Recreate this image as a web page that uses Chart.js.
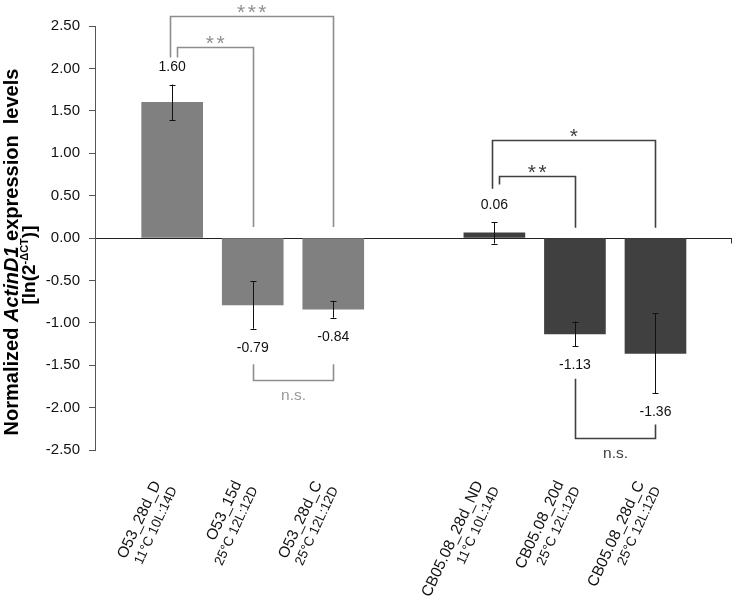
<!DOCTYPE html>
<html><head><meta charset="utf-8">
<script src="https://cdn.jsdelivr.net/npm/chart.js@4"></script>
<style>html,body{margin:0;padding:0;background:#fff;}</style>
</head><body>
<canvas id="c" width="734" height="601"></canvas>
<script>
// ---- data ----
const o53Labels = ['O53_28d_D', 'O53_15d', 'O53_28d_C'];
const o53Conditions = ['11°C 10L:14D', '25°C 12L:12D', '25°C 12L:12D'];
const o53Values = [1.60, -0.79, -0.84];
const o53Errors = [0.21, 0.28, 0.10];

const cbLabels = ['CB05.08_28d_ND', 'CB05.08_20d', 'CB05.08_28d_C'];
const cbConditions = ['11°C 10L:14D', '25°C 12L:12D', '25°C 12L:12D'];
const cbValues = [0.06, -1.13, -1.36];
const cbErrors = [0.125, 0.145, 0.47];

const yTickValues = [2.5, 2.0, 1.5, 1.0, 0.5, 0.0, -0.5, -1.0, -1.5, -2.0, -2.5];

// full category list (blank slot separates the two strains)
const categories = [...o53Labels, '', ...cbLabels];
const conditions = [...o53Conditions, '', ...cbConditions];

// significance comparisons (values in y data units)
const brackets = [
  { from: 0, to: 2, level: 2.62, fromEnd: 2.13, toEnd: 0.13, text: '***', group: 0 },
  { from: 0, to: 1, level: 2.25, fromEnd: 2.13, toEnd: 0.13, text: '**', group: 0 },
  { from: 1, to: 2, level: -1.68, fromEnd: -1.49, toEnd: -1.49, text: 'n.s.', group: 0 },
  { from: 4, to: 6, level: 1.16, fromEnd: 0.58, toEnd: 0.12, text: '*', group: 1 },
  { from: 4, to: 5, level: 0.73, fromEnd: 0.63, toEnd: 0.12, text: '**', group: 1 },
  { from: 5, to: 6, level: -2.36, fromEnd: -1.66, toEnd: -2.20, text: 'n.s.', group: 1 }
];

// ---- styling ----
const FONT = "'Liberation Sans', Arial, sans-serif";
const groupColors = ['#808080', '#404040'];
const bracketColors = ['#8e8e8e', '#404040'];
const starColors = ['#909090', '#404040'];

Chart.defaults.font.family = FONT;

const annotate = {
  id: 'annotate',
  afterDatasetsDraw(chart) {
    const ctx = chart.ctx;
    const x = chart.scales.x, y = chart.scales.y;
    const area = chart.chartArea;
    ctx.save();

    // error bars + value labels
    chart.data.datasets.forEach((ds, di) => {
      const meta = chart.getDatasetMeta(di);
      meta.data.forEach((el, i) => {
        const v = ds.data[i].y, e = ds.errors[i];
        const yt = y.getPixelForValue(v + e), yb = y.getPixelForValue(v - e);
        const cx = Math.round(el.x) + 0.5;
        ctx.strokeStyle = '#111'; ctx.lineWidth = 1;
        ctx.beginPath();
        ctx.moveTo(cx, yt); ctx.lineTo(cx, yb);
        ctx.moveTo(cx - 3, Math.round(yt) + 0.5); ctx.lineTo(cx + 3, Math.round(yt) + 0.5);
        ctx.moveTo(cx - 3, Math.round(yb) + 0.5); ctx.lineTo(cx + 3, Math.round(yb) + 0.5);
        ctx.stroke();
        ctx.fillStyle = '#111';
        ctx.font = '14px ' + FONT;
        ctx.textAlign = 'center'; ctx.textBaseline = 'middle';
        const ly = v >= 0 ? yt - 17 : yb + 19;
        ctx.fillText(v.toFixed(2), el.x, ly);
      });
    });

    // significance brackets
    brackets.forEach(b => {
      const up = b.level > b.fromEnd;
      let xf = x.getPixelForValue(b.from), xt = x.getPixelForValue(b.to);
      if (up) xf += (b.to - b.from > 1) ? -2.5 : 5;
      xf = Math.round(xf) + 0.5; xt = Math.round(xt) + 0.5;
      const yl = Math.round(y.getPixelForValue(b.level)) + 0.5;
      ctx.strokeStyle = bracketColors[b.group]; ctx.lineWidth = 1.6;
      ctx.beginPath();
      ctx.moveTo(xf, y.getPixelForValue(b.fromEnd));
      ctx.lineTo(xf, yl); ctx.lineTo(xt, yl);
      ctx.lineTo(xt, y.getPixelForValue(b.toEnd));
      ctx.stroke();
      const mx = (xf + xt) / 2;
      ctx.textAlign = 'center'; ctx.textBaseline = 'alphabetic';
      if (b.text === 'n.s.') {
        ctx.fillStyle = b.group === 0 ? '#999' : '#404040';
        ctx.font = '15.5px ' + FONT;
        ctx.fillText(b.text, mx, yl + 19);
      } else {
        ctx.fillStyle = starColors[b.group];
        ctx.font = '21px ' + FONT;
        try { ctx.letterSpacing = '2.5px'; } catch (e) {}
        ctx.fillText(b.text, mx + 1, yl + 2);
        try { ctx.letterSpacing = '0px'; } catch (e) {}
      }
    });

    // small tick at right end of the zero line
    const y0 = Math.round(y.getPixelForValue(0)) + 0.5;
    ctx.strokeStyle = '#333'; ctx.lineWidth = 1;
    ctx.beginPath(); ctx.moveTo(area.right - 0.5, y0); ctx.lineTo(area.right - 0.5, y0 + 5); ctx.stroke();

    // rotated category labels
    const ang = -65 * Math.PI / 180;
    ctx.fillStyle = '#111';
    categories.forEach((lab, i) => {
      if (!lab) return;
      ctx.save();
      ctx.translate(x.getPixelForValue(i) - 15, area.bottom + 32);
      ctx.rotate(ang);
      ctx.textAlign = 'right'; ctx.textBaseline = 'middle';
      ctx.font = '15.5px ' + FONT;
      ctx.fillText(lab, 0, 0);
      ctx.font = '13.5px ' + FONT;
      ctx.fillText(conditions[i], 2, 17.5);
      ctx.restore();
    });

    // y-axis title (rich text)
    const drawRich = (parts, bx, cy) => {
      ctx.save();
      ctx.translate(bx, cy);
      ctx.rotate(-Math.PI / 2);
      ctx.textAlign = 'left'; ctx.textBaseline = 'alphabetic';
      let w = 0;
      parts.forEach(p => { ctx.font = p.f; w += ctx.measureText(p.t).width; });
      let cx = -w / 2;
      parts.forEach(p => { ctx.font = p.f; ctx.fillText(p.t, cx, p.dy || 0); cx += ctx.measureText(p.t).width; });
      ctx.restore();
    };
    ctx.fillStyle = '#000';
    drawRich([
      { t: 'Normalized ', f: 'bold 20px ' + FONT },
      { t: 'ActinD1', f: 'italic bold 20px ' + FONT },
      { t: ' expression  levels', f: 'bold 20px ' + FONT }
    ], 17.5, 252);
    drawRich([
      { t: '[ln(2', f: 'bold 19px ' + FONT },
      { t: '-ΔCT', f: 'bold 11px ' + FONT, dy: -7 },
      { t: ')]', f: 'bold 19px ' + FONT }
    ], 34.5, 265);

    ctx.restore();
  }
};

new Chart(document.getElementById('c'), {
  type: 'bar',
  data: {
    datasets: [
      {
        label: 'O53',
        data: o53Values.map((v, i) => ({ x: categories.indexOf(o53Labels[i]), y: v })),
        errors: o53Errors,
        backgroundColor: groupColors[0]
      },
      {
        label: 'CB05.08',
        data: cbValues.map((v, i) => ({ x: categories.indexOf(cbLabels[i]), y: v })),
        errors: cbErrors,
        backgroundColor: groupColors[1]
      }
    ]
  },
  options: {
    responsive: false,
    animation: false,
    devicePixelRatio: 1,
    layout: { padding: { left: 0, top: 26, right: 2, bottom: 151 } },
    plugins: { legend: { display: false }, tooltip: { enabled: false } },
    datasets: { bar: { grouped: false, barThickness: 61, borderWidth: 0 } },
    scales: {
      x: { type: 'linear', display: false, offset: false, min: -0.958, max: 6.95 },
      y: {
        min: -2.5, max: 2.5,
        afterFit(s) { s.width = 95; },
        afterBuildTicks(s) { s.ticks = yTickValues.map(v => ({ value: v })); },
        ticks: {
          callback: v => v.toFixed(2),
          font: { size: 15, family: FONT },
          color: '#111',
          padding: 9
        },
        grid: {
          color: c => (c.tick && c.tick.value === 0) ? '#222' : 'rgba(0,0,0,0)',
          tickColor: '#555',
          tickLength: 6,
          lineWidth: 1
        },
        border: { display: true, color: '#555', width: 1 }
      }
    }
  },
  plugins: [annotate]
});
</script>
</body></html>
